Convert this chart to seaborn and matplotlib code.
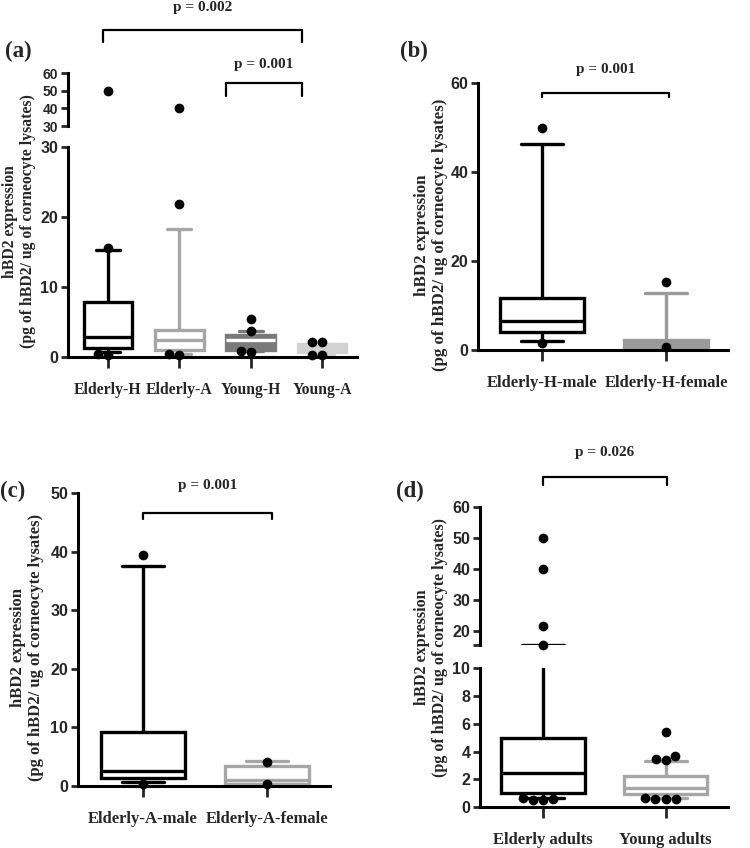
import matplotlib
matplotlib.use("Agg")
import matplotlib.pyplot as plt
from matplotlib import font_manager
from matplotlib.lines import Line2D
from matplotlib.transforms import blended_transform_factory
import seaborn as sns
import pandas as pd

# ---- data (box summaries: lower whisker, Q1, median, Q3, upper whisker) ----
# (a) four groups
a_groups = ["Elderly-H", "Elderly-A", "Young-H", "Young-A"]
a_low = [0.75, 0.5, 0.9, 0.5]
a_q1 = [1.3, 1.0, 1.0, 0.7]
a_median = [2.8, 2.4, 2.4, 1.2]
a_q3 = [7.8, 3.9, 3.2, 1.8]
a_high = [15.3, 18.3, 3.7, 1.9]
a_outliers = [[50, 15.6, 0.3, 0.4], [40, 21.8, 0.35, 0.4],
              [5.4, 3.7, 0.7, 0.9], [2.1, 2.1, 0.3, 0.3]]

# (b) elderly healthy by sex
b_groups = ["Elderly-H-male", "Elderly-H-female"]
b_low = [2.1, 0.0]
b_q1 = [4.1, 0.0]
b_median = [6.4, 0.0]
b_q3 = [11.7, 2.2]
b_high = [46.3, 12.8]
b_outliers = [[49.8, 1.6], [15.3, 0.6]]

# (c) elderly atopic by sex
c_groups = ["Elderly-A-male", "Elderly-A-female"]
c_low = [0.7, 0.2]
c_q1 = [1.4, 0.3]
c_median = [2.6, 1.1]
c_q3 = [9.2, 3.5]
c_high = [37.6, 4.2]
c_outliers = [[39.4, 0.3], [4.1, 0.3]]

# (d) elderly vs young
d_groups = ["Elderly adults", "Young adults"]
d_low = [0.7, 0.7]
d_q1 = [1.05, 0.95]
d_median = [2.45, 1.4]
d_q3 = [5.0, 2.25]
d_high = [15.6, 3.3]
d_outliers = [[50, 40, 21.7, 15.6, 0.5, 0.5, 0.6, 0.7],
              [5.4, 3.7, 3.5, 3.4, 0.6, 0.6, 0.6, 0.7]]

# ---- style ----
sns.set_style("ticks")
installed = {f.name for f in font_manager.fontManager.ttflist}
NARROW = "Liberation Sans Narrow" if "Liberation Sans Narrow" in installed else "Liberation Sans"
SERIF = "Liberation Serif"
plt.rcParams["font.family"] = [NARROW, "DejaVu Sans"]
plt.rcParams["font.weight"] = "bold"
plt.rcParams["axes.linewidth"] = 2.2
plt.rcParams["axes.edgecolor"] = "black"

BLACK, GRAY, DARK, LIGHT = "#000000", "#a6a6a6", "#7a7a7a", "#d2d2d2"


def draw_boxes(ax, groups, low, q1, med, q3, high, outliers, edges, fills, medcols, ylim, xlim):
    for i, g in enumerate(groups):
        sns.boxplot(x=[g] * 5, y=[low[i], q1[i], med[i], q3[i], high[i]], order=groups,
                    whis=(0, 100), width=0.68, color=fills[i], linecolor=edges[i],
                    saturation=1, linewidth=2.4, medianprops={"color": medcols[i]}, ax=ax)
    ax.set_xlim(*xlim)
    ax.set_ylim(*ylim)
    pts = pd.DataFrame([(g, v) for g, vals in zip(groups, outliers) for v in vals
                        if ylim[0] <= v <= ylim[1]], columns=["group", "value"])
    n = len(ax.collections)
    if len(pts):
        sns.swarmplot(data=pts, x="group", y="value", order=groups, color="black",
                      size=7, ax=ax)
    for c in ax.collections[n:]:
        c.set_clip_on(False)
    ax.set_xlim(*xlim)
    ax.set_ylim(*ylim)


def style_axes(ax, yticks, labels=None, ylabels=None, labelsize=11.5, xsize=12):
    ax.set_xlabel("")
    ax.set_ylabel("")
    sns.despine(ax=ax)
    ax.set_yticks(yticks)
    if ylabels is not None:
        ax.set_yticklabels(ylabels)
    ax.tick_params(axis="y", length=5, width=2, pad=2, labelsize=labelsize)
    if labels is not None:
        ax.set_xticks(range(len(labels)))
        ax.set_xticklabels(labels, fontfamily=SERIF, fontweight="bold", fontsize=xsize)
        ax.tick_params(axis="x", length=8, width=2, pad=10)
    else:
        ax.spines["bottom"].set_visible(False)
        ax.tick_params(axis="x", bottom=False, labelbottom=False)


def bracket(ax, x0, x1, y, leg, text, ty, fs=11):
    tr = blended_transform_factory(ax.transData, ax.transAxes)
    ax.add_line(Line2D([x0, x0, x1, x1], [y - leg, y, y, y - leg], transform=tr,
                       color="black", lw=1.6, clip_on=False))
    ax.text((x0 + x1) / 2, ty, text, transform=tr, ha="center", va="center",
            fontfamily=SERIF, fontweight="bold", fontsize=fs)


fig = plt.figure(figsize=(7.5, 8.48), dpi=100)
ylab = "hBD2 expression\n(pg of hBD2/ ug of corneocyte lysates)"

# ---- (a) broken axis ----
a_lo = fig.add_axes([0.0907, 0.579, 0.3853, 0.2476])
a_hi = fig.add_axes([0.0907, 0.8514, 0.3853, 0.0625])
a_edges = [BLACK, GRAY, DARK, LIGHT]
a_fills = ["white", "white", DARK, LIGHT]
a_meds = [BLACK, GRAY, "white", LIGHT]
for ax, lim in [(a_lo, (0, 30)), (a_hi, (30, 60))]:
    draw_boxes(ax, a_groups, a_low, a_q1, a_median, a_q3, a_high, a_outliers,
               a_edges, a_fills, a_meds, lim, (-0.56, 3.49))
style_axes(a_lo, [0, 10, 20, 30], labels=a_groups, xsize=11.3)
style_axes(a_hi, [30, 40, 50, 60], labelsize=10)
bracket(a_hi, -0.07, 2.72, 1.81, 0.225, "p = 0.002", 2.245)
bracket(a_hi, 1.65, 2.72, 0.811, 0.245, "p = 0.001", 1.17)
fig.text(0.025, 0.739, ylab, rotation=90, ha="center", va="center", multialignment="center",
         fontfamily=SERIF, fontweight="bold", fontsize=11.3, linespacing=1.2)
fig.text(0.024, 0.939, "(a)", ha="center", va="center", fontfamily=SERIF,
         fontweight="bold", fontsize=16.5)

# ---- (b) ----
b_ax = fig.add_axes([0.6373, 0.5873, 0.3333, 0.3149])
draw_boxes(b_ax, b_groups, b_low, b_q1, b_median, b_q3, b_high, b_outliers,
           [BLACK, "#9a9a9a"], ["white", "#9a9a9a"], [BLACK, "#9a9a9a"],
           (0, 60), (-0.52, 1.5))
style_axes(b_ax, [0, 20, 40, 60], labels=b_groups)
bracket(b_ax, 0, 1.02, 0.964, 0.015, "p = 0.001", 1.052)
fig.text(0.575, 0.723, ylab, rotation=90, ha="center", va="center", multialignment="center",
         fontfamily=SERIF, fontweight="bold", fontsize=12.2, linespacing=1.2)
fig.text(0.552, 0.939, "(b)", ha="center", va="center", fontfamily=SERIF,
         fontweight="bold", fontsize=16.5)

# ---- (c) ----
c_ax = fig.add_axes([0.104, 0.0731, 0.336, 0.3455])
draw_boxes(c_ax, c_groups, c_low, c_q1, c_median, c_q3, c_high, c_outliers,
           [BLACK, GRAY], ["white", "white"], [BLACK, GRAY],
           (0, 50), (-0.524, 1.508))
style_axes(c_ax, [0, 10, 20, 30, 40, 50], labels=c_groups)
bracket(c_ax, 0, 1.04, 0.932, 0.021, "p = 0.001", 1.027)
fig.text(0.036, 0.237, ylab, rotation=90, ha="center", va="center", multialignment="center",
         fontfamily=SERIF, fontweight="bold", fontsize=12, linespacing=1.2)
fig.text(0.017, 0.42, "(c)", ha="center", va="center", fontfamily=SERIF,
         fontweight="bold", fontsize=16.5)

# ---- (d) broken axis ----
d_lo = fig.add_axes([0.64, 0.048, 0.3307, 0.164])
d_hi = fig.add_axes([0.64, 0.2394, 0.3307, 0.1631])
for ax, lim in [(d_lo, (0, 10)), (d_hi, (15.5, 60))]:
    draw_boxes(ax, d_groups, d_low, d_q1, d_median, d_q3, d_high, d_outliers,
               [BLACK, GRAY], ["white", "white"], [BLACK, GRAY], lim, (-0.51, 1.507))
style_axes(d_lo, [0, 2, 4, 6, 8, 10], labels=d_groups)
style_axes(d_hi, [15.5, 20, 30, 40, 50, 60], ylabels=["", "20", "30", "40", "50", "60"])
bracket(d_hi, 0, 1.01, 1.217, 0.06, "p = 0.026", 1.39)
fig.text(0.575, 0.237, ylab, rotation=90, ha="center", va="center", multialignment="center",
         fontfamily=SERIF, fontweight="bold", fontsize=11.6, linespacing=1.2)
fig.text(0.547, 0.42, "(d)", ha="center", va="center", fontfamily=SERIF,
         fontweight="bold", fontsize=16.5)

fig.savefig("out.png", dpi=100)
